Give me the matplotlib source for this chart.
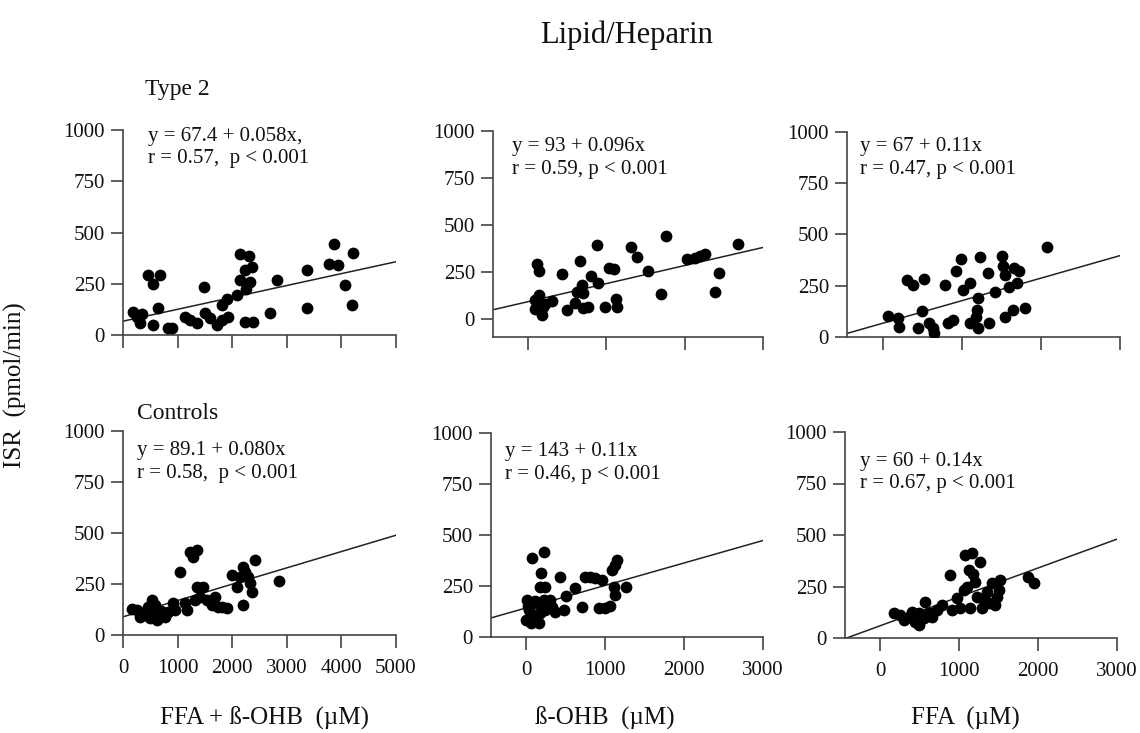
import numpy as np
import matplotlib
matplotlib.use("Agg")
import matplotlib.pyplot as plt

plt.rcParams['font.family'] = ['Liberation Serif', 'DejaVu Serif']

# Type 2, FFA + B-OHB
t2_sum_x = [177, 342, 311, 555, 464, 555, 678, 647, 830, 892, 1136, 1227, 1350, 1484, 1502,
            1593, 1716, 1807, 1929, 1807, 1899, 2082, 2143, 2314, 2234, 2357, 2143, 2326,
            2253, 2234, 2387, 2692, 2826, 3364, 3376, 3864, 3779, 3944, 4066, 4206, 4200, 250]
t2_sum_y = [113, 102, 57, 49, 291, 250, 291, 134, 32, 32, 89, 73, 57, 234, 105,
            81, 49, 73, 89, 146, 178, 194, 396, 383, 315, 331, 270, 259,
            226, 65, 65, 105, 267, 319, 134, 442, 348, 340, 243, 399, 146, 90]

# Type 2, B-OHB
t2_ohb_x = [111, 144, 132, 89, 89, 175, 188, 302, 217, 430, 494, 600, 622, 664, 686, 706,
            706, 770, 805, 877, 898, 983, 1038, 1098, 1124, 1133, 1312, 1396, 1529, 1695,
            1758, 2027, 2133, 2261, 2388, 2443, 2678, 2200]
t2_ohb_y = [293, 257, 128, 101, 52, 21, 65, 97, 83, 238, 48, 87, 145, 310, 181, 140,
            57, 62, 229, 394, 193, 62, 273, 264, 105, 62, 385, 332, 257, 133,
            442, 318, 326, 346, 145, 243, 397, 335]

# Type 2, FFA
t2_ffa_x = [67, 191, 204, 308, 383, 517, 442, 496, 592, 633, 650, 787, 829, 892, 933, 996,
            1017, 1100, 1100, 1175, 1192, 1204, 1225, 1204, 1329, 1350, 1425, 1504, 1517,
            1550, 1550, 1600, 1650, 1663, 1725, 1704, 1796, 2079]
t2_ffa_y = [102, 91, 50, 278, 254, 282, 42, 128, 70, 42, 18, 254, 67, 83, 324, 379,
            229, 265, 67, 99, 132, 189, 392, 42, 314, 70, 221, 395, 346,
            303, 96, 242, 132, 335, 324, 262, 140, 438]

# Controls, FFA + B-OHB
c_sum_x = [159, 251, 311, 403, 464, 525, 555, 617, 647, 494, 586, 769, 830, 922, 952, 1044,
           1136, 1166, 1227, 1350, 1289, 1319, 1350, 1472, 1410, 1533, 1624, 1685, 1746,
           1807, 1899, 1990, 2082, 2143, 2204, 2234, 2295, 2326, 2357, 2204, 2418, 2863,
           380, 700]
c_sum_y = [126, 123, 90, 114, 139, 172, 98, 74, 114, 82, 147, 90, 114, 155, 123, 310,
           155, 123, 408, 417, 384, 172, 237, 237, 188, 172, 147, 188, 139,
           139, 131, 294, 237, 286, 335, 310, 286, 253, 212, 147, 368, 266,
           100, 120]

# Controls, B-OHB
c_ohb_x = [72, 219, 186, 241, 177, 422, 9, 29, 51, 92, 135, 156, 177, 219, 241, 304, 325,
           367, 473, 506, 620, 705, 747, 810, 873, 915, 958, 1000, 1063, 1085, 1127, 1148,
           1105, 1127, 1266, -10, 60, 110, 20]
c_ohb_y = [386, 418, 315, 244, 244, 295, 181, 132, 92, 108, 165, 67, 116, 181, 132, 181, 148,
           124, 132, 201, 239, 148, 295, 295, 287, 141, 279, 141, 152, 328, 353, 377,
           247, 206, 244, 85, 70, 175, 150]

# Controls, FFA
c_ffa_x = [169, 253, 295, 358, 401, 443, 485, 485, 548, 570, 612, 654, 717, 781, 886, 907,
           970, 1013, 1055, 1097, 1076, 1160, 1118, 1173, 1203, 1224, 1266, 1287, 1308,
           1350, 1371, 1413, 1456, 1477, 1498, 1519, 1877, 1941, 1139]
c_ffa_y = [123, 112, 87, 103, 128, 79, 63, 120, 96, 176, 120, 103, 136, 160, 306, 136,
           193, 144, 233, 249, 403, 414, 330, 309, 273, 200, 370, 144, 184,
           225, 168, 265, 160, 200, 233, 281, 297, 265, 144]

intercepts = [67.4, 93, 67, 89.1, 143, 60]
slopes = [0.058, 0.096, 0.11, 0.080, 0.11, 0.14]
stats = ["y = 67.4 + 0.058x,\nr = 0.57,  p < 0.001",
         "y = 93 + 0.096x\nr = 0.59, p < 0.001",
         "y = 67 + 0.11x\nr = 0.47, p < 0.001",
         "y = 89.1 + 0.080x\nr = 0.58,  p < 0.001",
         "y = 143 + 0.11x\nr = 0.46, p < 0.001",
         "y = 60 + 0.14x\nr = 0.67, p < 0.001"]
xlabels = ["FFA + ß-OHB  (µM)", "ß-OHB  (µM)", "FFA  (µM)"]
yticks = [0, 250, 500, 750, 1000]

xs = [t2_sum_x, t2_ohb_x, t2_ffa_x, c_sum_x, c_ohb_x, c_ffa_x]
ys = [t2_sum_y, t2_ohb_y, t2_ffa_y, c_sum_y, c_ohb_y, c_ffa_y]

W, H = 1140, 733
# left, top, right, bottom in pixels
boxes = [(123, 130, 396, 335), (493, 131, 763, 337), (847, 132, 1120, 337),
         (123, 431, 396, 635), (491, 433, 763, 637), (845, 432, 1117, 638)]
xlims = [(0, 5000), (-450, 3000), (-450, 3000)] * 2
ylims = [(0, 1000), (-95, 1000), (0, 1000), (0, 1000), (0, 1000), (0, 1000)]
xtick_sets = [[0, 1000, 2000, 3000, 4000, 5000], [0, 1000, 2000, 3000], [0, 1000, 2000, 3000]] * 2
text_pos = [(0.092, 1.015), (0.07, 0.97), (0.048, 0.975), (0.05, 0.95), (0.05, 0.955), (0.055, 0.905)]

fig = plt.figure(figsize=(W / 100, H / 100), dpi=100)
axis_col = '#444444'
txt_col = '#111111'

for i in range(6):
    l, t, r, b = boxes[i]
    ax = fig.add_axes([l / W, 1 - b / H, (r - l) / W, (b - t) / H])
    ax.scatter(xs[i], ys[i], s=72, color='black', zorder=3, linewidths=0)
    lx = np.array(xlims[i])
    ax.plot(lx, intercepts[i] + slopes[i] * lx, color='#222222', lw=1.1)
    ax.set_xlim(*xlims[i])
    ax.set_ylim(*ylims[i])
    ax.set_xticks(xtick_sets[i])
    ax.set_yticks(yticks)
    for s in ['top', 'right']:
        ax.spines[s].set_visible(False)
    for s in ['left', 'bottom']:
        ax.spines[s].set_color(axis_col)
        ax.spines[s].set_linewidth(1.2)
    ax.tick_params(direction='out', length=9, width=1.2, color=axis_col,
                   labelsize=15, labelcolor=txt_col, pad=4)
    ax.tick_params(axis='x', pad=8)
    if i < 3:
        ax.tick_params(axis='x', labelbottom=False)
    ax.text(text_pos[i][0], text_pos[i][1], stats[i], transform=ax.transAxes,
            ha='left', va='top', fontsize=15, linespacing=1.25, color=txt_col)
    ax.patch.set_alpha(0)

fig.text(627 / W, 1 - 35 / H, "Lipid/Heparin", ha='center', va='center',
         fontsize=22, color=txt_col)
fig.text(145 / W, 1 - 90 / H, "Type 2", ha='left', va='center', fontsize=17, color=txt_col)
fig.text(137 / W, 1 - 413 / H, "Controls", ha='left', va='center', fontsize=17, color=txt_col)
fig.text(15 / W, 1 - 385 / H, "ISR  (pmol/min)", ha='center', va='center',
         rotation=90, fontsize=18, color=txt_col)
for cx, lab in zip([265, 605, 965], xlabels):
    fig.text(cx / W, 1 - 718 / H, lab, ha='center', va='center', fontsize=18, color=txt_col)

fig.savefig("out.png", dpi=100)
